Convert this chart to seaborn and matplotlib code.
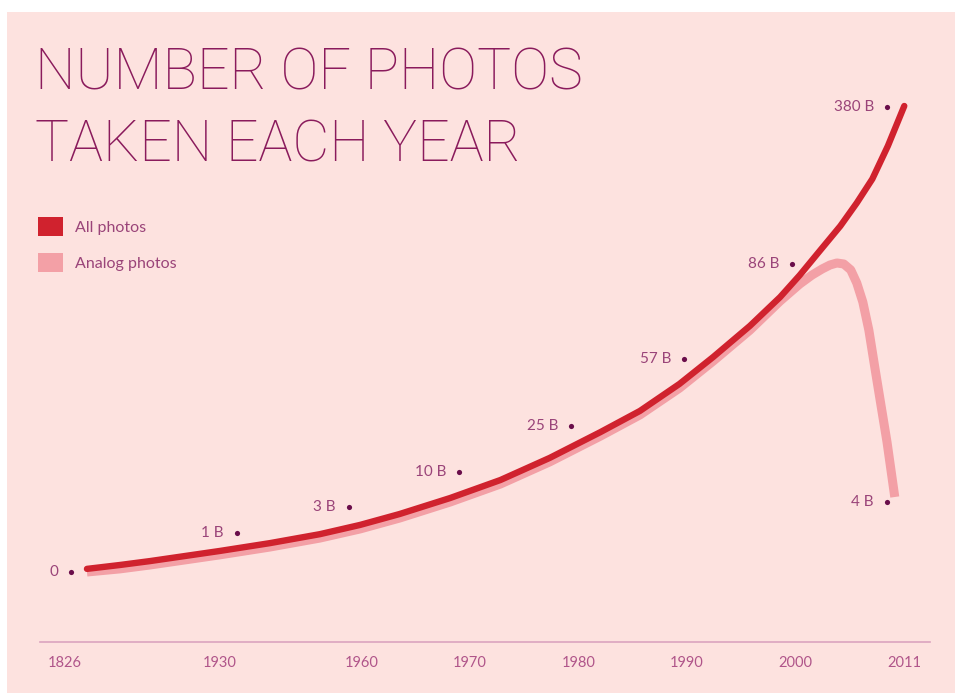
import numpy as np
import matplotlib
matplotlib.use("Agg")
import matplotlib.pyplot as plt
from matplotlib.patches import Patch, Rectangle
import seaborn as sns

# labelled dots (year, billions of photos)
DOT_YEARS = [1826, 1930, 1960, 1970, 1980, 1990, 2000, 2011, 2011]
DOT_VALUES = [0, 1, 3, 10, 25, 57, 86, 380, 4]
DOT_LABELS = ["0", "1 B", "3 B", "10 B", "25 B", "57 B", "86 B", "380 B", "4 B"]

# curves (year, billions)
ALL_YEARS = [1836.0, 1856.7, 1875.5, 1897.4, 1919.3, 1938.8, 1952.2, 1961.0,
             1964.6, 1969.2, 1973.7, 1978.1, 1982.6, 1986.1, 1989.6, 1992.7,
             1996.1, 1998.9, 2000.9, 2003.2, 2005.6, 2007.5, 2009.3, 2011.1, 2013.0]
ALL_VALUES = [0.08, 0.18, 0.28, 0.41, 0.54, 0.74, 0.97, 1.62,
              2.46, 4.8, 8.4, 14.6, 23.0, 32.2, 45.1, 57.6,
              67.1, 75.9, 82.6, 110.3, 157.2, 200.3, 245.2, 307.0, 381.9]

ANALOG_YEARS = [1836.0, 1856.7, 1875.5, 1897.4, 1919.3, 1938.8, 1952.2, 1961.0,
                1964.6, 1969.2, 1973.7, 1978.1, 1982.6, 1986.1, 1989.6, 1992.7,
                1996.1, 1998.9, 2000.9, 2002.3, 2003.5, 2004.4, 2005.2, 2006.0,
                2006.8, 2007.5, 2008.2, 2008.9, 2009.6, 2010.3, 2011.0, 2011.9]
ANALOG_VALUES = [0.0, 0.08, 0.18, 0.31, 0.44, 0.64, 0.87, 1.31,
                 2.15, 4.0, 7.6, 13.3, 21.7, 30.3, 43.1, 56.0,
                 65.8, 74.7, 79.9, 82.6, 84.5, 85.7, 87.9, 86.0,
                 84.2, 80.2, 74.4, 65.8, 52.7, 35.0, 19.8, 5.0]

TICK_YEARS = [1826, 1930, 1960, 1970, 1980, 1990, 2000, 2011]

# the design uses uneven axes: knots of year -> px and value -> px
X_KNOT_YEARS = [1826, 1930, 1960, 1970, 1980, 1990, 2000, 2011]
X_KNOT_PX = [71, 237, 349, 459, 571, 684, 792, 887]
Y_KNOT_VALUES = [0, 1, 3, 10, 25, 57, 86, 380]
Y_KNOT_PX = [572, 533, 507, 472, 426, 359, 264, 107]
TICK_LABEL_PX = [65, 220, 362, 470, 579, 687, 795, 904]

W, H = 955, 693
BG = "#fde2df"
RED = "#d0222e"
PINK = "#f3a0a6"
DOT = "#6a0d4a"
TEXT = "#9a4479"
TITLE = "#8a1b5c"
AXIS = "#dba4bf"


def piecewise(xp, fp):
    xp = np.asarray(xp, float)
    fp = np.asarray(fp, float)

    def f(x):
        x = np.asarray(x, float)
        y = np.interp(x, xp, fp)
        y = np.where(x < xp[0], fp[0] + (x - xp[0]) * (fp[1] - fp[0]) / (xp[1] - xp[0]), y)
        y = np.where(x > xp[-1], fp[-1] + (x - xp[-1]) * (fp[-1] - fp[-2]) / (xp[-1] - xp[-2]), y)
        return y
    return f


x_fwd = piecewise(X_KNOT_YEARS, X_KNOT_PX)
x_inv = piecewise(X_KNOT_PX, X_KNOT_YEARS)
heights = [H - p for p in Y_KNOT_PX]
y_fwd = piecewise(Y_KNOT_VALUES, heights)
y_inv = piecewise(heights, Y_KNOT_VALUES)

sns.set_style("white")
plt.rcParams["font.family"] = ["Lato", "DejaVu Sans"]

fig = plt.figure(figsize=(W / 100, H / 100), dpi=100, facecolor="white")
fig.add_artist(Rectangle((7 / W, 0), 1 - 7 / W, 1 - 12 / H, transform=fig.transFigure,
                         facecolor=BG, edgecolor="none", zorder=-10))

axis_px = 642
ax = fig.add_axes([0, (H - axis_px) / H, 1, axis_px / H])
ax.set_facecolor("none")

sns.lineplot(x=ANALOG_YEARS, y=ANALOG_VALUES, sort=False, estimator=None, ax=ax,
             color=PINK, linewidth=6.5, solid_capstyle="butt", solid_joinstyle="round")
sns.lineplot(x=ALL_YEARS, y=ALL_VALUES, sort=False, estimator=None, ax=ax,
             color=RED, linewidth=4.6, solid_capstyle="round", solid_joinstyle="round")
sns.scatterplot(x=DOT_YEARS, y=DOT_VALUES, ax=ax, color=DOT, s=14, linewidth=0, zorder=5)

ax.set_xscale("function", functions=(x_fwd, x_inv))
ax.set_yscale("function", functions=(y_fwd, y_inv))
ax.set_xlim(float(x_inv(0)), float(x_inv(W)))
ax.set_ylim(float(y_inv(H - axis_px)), float(y_inv(H)))

for yr, val, lab in zip(DOT_YEARS, DOT_VALUES, DOT_LABELS):
    ax.annotate(lab, xy=(yr, val), xytext=(-13 * 0.72, 0), textcoords="offset points",
                ha="right", va="center", fontsize=11, color=TEXT)

for yr, px in zip(TICK_YEARS, TICK_LABEL_PX):
    dx = (px - float(x_fwd(yr))) * 0.72
    ax.annotate(str(yr), xy=(yr, 0), xycoords=("data", "axes fraction"),
                xytext=(dx, -21 * 0.72), textcoords="offset points",
                ha="center", va="center", fontsize=10.5, color="#b0558a")

ax.set_xticks([])
ax.set_yticks([])
for side in ["left", "right", "top"]:
    ax.spines[side].set_visible(False)
ax.spines["bottom"].set_color(AXIS)
ax.spines["bottom"].set_linewidth(1.2)
ax.spines["bottom"].set_bounds(float(x_inv(40)), float(x_inv(930)))

title_font = dict(family=["Roboto", "DejaVu Sans"], fontsize=41, fontweight="light",
                  color=TITLE, va="baseline", ha="left")
fig.text(35 / W, 1 - 90 / H, "NUMBER OF PHOTOS", **title_font)
fig.text(35 / W, 1 - 162 / H, "TAKEN EACH YEAR", **title_font)

handles = [Patch(facecolor=RED, edgecolor="none"), Patch(facecolor=PINK, edgecolor="none")]
fig.legend(handles, ["All photos", "Analog photos"], loc="upper left",
           bbox_to_anchor=(38 / W, 1 - 217 / H), bbox_transform=fig.transFigure,
           frameon=False, fontsize=11.5, labelcolor=TEXT, borderpad=0, borderaxespad=0,
           handlelength=1.56, handleheight=1.44, labelspacing=1.06, handletextpad=0.75)

fig.savefig("out.png", dpi=100, facecolor="white")
